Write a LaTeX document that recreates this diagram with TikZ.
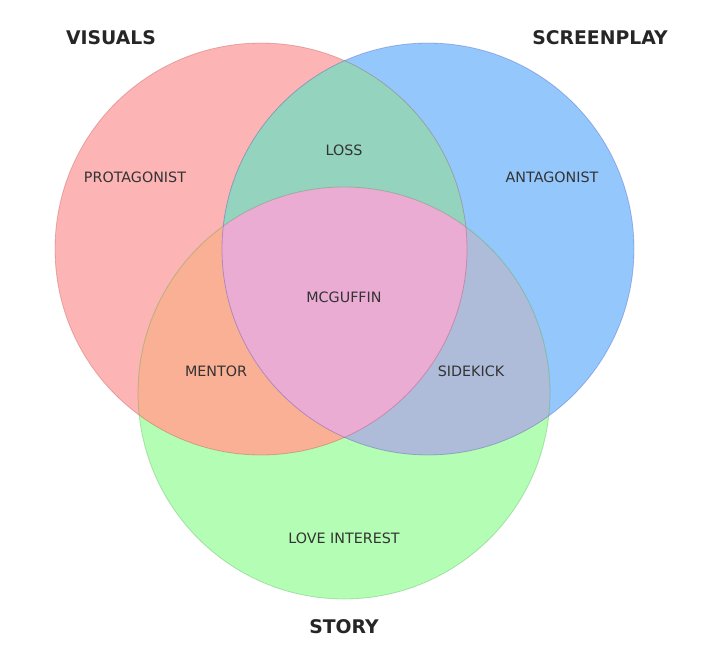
\documentclass[tikz,border=0pt]{standalone}
\usepackage{fontspec}
\setmainfont{DejaVu Sans}
\begin{document}
\begin{tikzpicture}[x=1pt,y=-1pt,
  title/.style={font=\fontsize{18.8}{20}\selectfont\bfseries, text=black!85},
  region/.style={font=\fontsize{14.3}{16}\selectfont, text=black!80, inner sep=0pt},
  edge/.style={line width=0.8pt, draw opacity=0.22}]
\definecolor{cvis}{RGB}{253,180,180}
\definecolor{cscr}{RGB}{148,200,253}
\definecolor{csto}{RGB}{180,253,180}
\definecolor{closs}{RGB}{148,212,190}
\definecolor{cment}{RGB}{249,176,148}
\definecolor{cside}{RGB}{174,188,218}
\definecolor{cmid}{RGB}{235,172,212}
\useasboundingbox (0,0) rectangle (713,662);
\fill[white] (0,0) rectangle (713,662);
\def\cvis{(261,249) circle[radius=206]}
\def\cscr{(428,249) circle[radius=206]}
\def\csto{(344,393) circle[radius=206]}
% base circles
\fill[cvis] \cvis;
\fill[cscr] \cscr;
\fill[csto] \csto;
% pairwise overlaps
\begin{scope}\clip \cvis; \fill[closs] \cscr; \end{scope}
\begin{scope}\clip \cvis; \fill[cment] \csto; \end{scope}
\begin{scope}\clip \cscr; \fill[cside] \csto; \end{scope}
% triple overlap
\begin{scope}\clip \cvis; \clip \cscr; \fill[cmid] \csto; \end{scope}
% edges
\draw[edge, draw=red!60!black] \cvis;
\draw[edge, draw=blue!60!black] \cscr;
\draw[edge, draw=green!50!black] \csto;
% titles
\node[title] (tvis) at (111,38) {VISUALS};
\node[title] (tscr) at (600,38) {SCREENPLAY};
\node[title] (tsto) at (344,627) {STORY};
% region labels
\node[region] (prot) at (135,177) {PROTAGONIST};
\node[region] (loss) at (344,150) {LOSS};
\node[region] (anta) at (552,177) {ANTAGONIST};
\node[region] (mcg) at (344,297) {MCGUFFIN};
\node[region] (ment) at (216,371) {MENTOR};
\node[region] (side) at (471,371) {SIDEKICK};
\node[region] (love) at (344,538) {LOVE INTEREST};
\end{tikzpicture}
\end{document}
